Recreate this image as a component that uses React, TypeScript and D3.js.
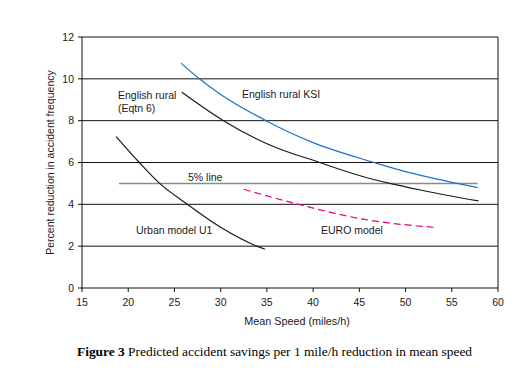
import React from "react";
import * as d3 from "d3";

const xTicks = [15, 20, 25, 30, 35, 40, 45, 50, 55, 60];
const yTicks = [0, 2, 4, 6, 8, 10, 12];

const ksiSpeed = [25.7, 27.7, 30, 34.9, 40, 46.6, 50, 55.6, 57.8];
const ksiValue = [10.75, 10, 9.25, 8, 6.95, 6, 5.56, 5, 4.8];

const eqtnSpeed = [25.8, 30.3, 35, 40.7, 45, 48.3, 52, 57.9];
const eqtnValue = [9.36, 8, 6.9, 6, 5.38, 5, 4.65, 4.16];

const urbanSpeed = [18.7, 21.2, 23.4, 26.4, 30, 33.9, 34.8];
const urbanValue = [7.24, 6, 5, 4, 2.9, 2, 1.85];

const euroSpeed = [32.5, 38.4, 45.4, 53.4];
const euroValue = [4.72, 4, 3.29, 2.89];

const fiveSpeed = [19, 57.8];
const fiveValue = [5, 5];

const W = 532;
const H = 377;
const left = 82;
const right = 498;
const top = 37;
const bottom = 288;

export default function App() {
  const x = d3.scaleLinear().domain([15, 60]).range([left, right]);
  const y = d3.scaleLinear().domain([0, 12]).range([bottom, top]);
  const line = (xs: number[], ys: number[]) =>
    d3
      .line<number>()
      .x((_, i) => x(xs[i]))
      .y((d) => y(d))
      .curve(d3.curveMonotoneX)(ys) || "";

  const font = "Liberation Sans, Arial, sans-serif";
  const txt = "#1a1a1a";
  return (
    <svg
      width={W}
      height={H}
      style={{ position: "absolute", left: 0, top: 0, background: "#fff" }}
    >
      <rect x={0} y={0} width={W} height={H} fill="#fff" />
      {/* gridlines */}
      {yTicks.map((t) => (
        <line key={"g" + t} x1={left} x2={right} y1={y(t)} y2={y(t)} stroke="#111" strokeWidth={1} />
      ))}
      <line x1={right} x2={right} y1={top} y2={bottom} stroke="#111" strokeWidth={1} />
      <line x1={left} x2={left} y1={top} y2={bottom + 0.5} stroke="#111" strokeWidth={1} />
      {/* y ticks */}
      {yTicks.map((t) => (
        <g key={"yt" + t}>
          <line x1={left - 4} x2={left} y1={y(t)} y2={y(t)} stroke="#111" />
          <text x={left - 8} y={y(t)} dy="0.35em" textAnchor="end" fontFamily={font} fontSize={10.5} fill={txt}>
            {t}
          </text>
        </g>
      ))}
      {/* x ticks */}
      {xTicks.map((t) => (
        <g key={"xt" + t}>
          <line x1={x(t)} x2={x(t)} y1={bottom} y2={bottom + 4} stroke="#111" />
          <text x={x(t)} y={306} textAnchor="middle" fontFamily={font} fontSize={10.5} fill={txt}>
            {t}
          </text>
        </g>
      ))}
      {/* curves */}
      <path d={line(fiveSpeed, fiveValue)} fill="none" stroke="#8a8a8a" strokeWidth={1.5} />
      <path d={line(ksiSpeed, ksiValue)} fill="none" stroke="#1f72c4" strokeWidth={1.2} />
      <path d={line(eqtnSpeed, eqtnValue)} fill="none" stroke="#1a1a1a" strokeWidth={1.2} />
      <path d={line(urbanSpeed, urbanValue)} fill="none" stroke="#1a1a1a" strokeWidth={1.2} />
      <path
        d={line(euroSpeed, euroValue)}
        fill="none"
        stroke="#e4007f"
        strokeWidth={1.2}
        strokeDasharray="7,4"
      />
      {/* labels */}
      <g fontFamily={font} fontSize={10.5} fill={txt}>
        <text x={242} y={98}>English rural KSI</text>
        <text x={118} y={99}>English rural</text>
        <text x={118} y={112}>(Eqtn 6)</text>
        <text x={188} y={181}>5% line</text>
        <text x={136} y={234}>Urban model U1</text>
        <text x={321} y={234}>EURO model</text>
      </g>
      <text
        transform={`translate(54,${(top + bottom) / 2}) rotate(-90)`}
        textAnchor="middle"
        fontFamily={font}
        fontSize={10.5}
        fill={txt}
      >
        Percent reduction in accident frequency
      </text>
      <text x={297} y={325} textAnchor="middle" fontFamily={font} fontSize={10.8} fill={txt}>
        Mean Speed (miles/h)
      </text>
      <text x={77} y={356} fontFamily="Liberation Serif, Times New Roman, serif" fontSize={13.4} fill="#000">
        <tspan fontWeight="bold">Figure 3</tspan> Predicted accident savings per 1 mile/h reduction in mean speed
      </text>
    </svg>
  );
}
